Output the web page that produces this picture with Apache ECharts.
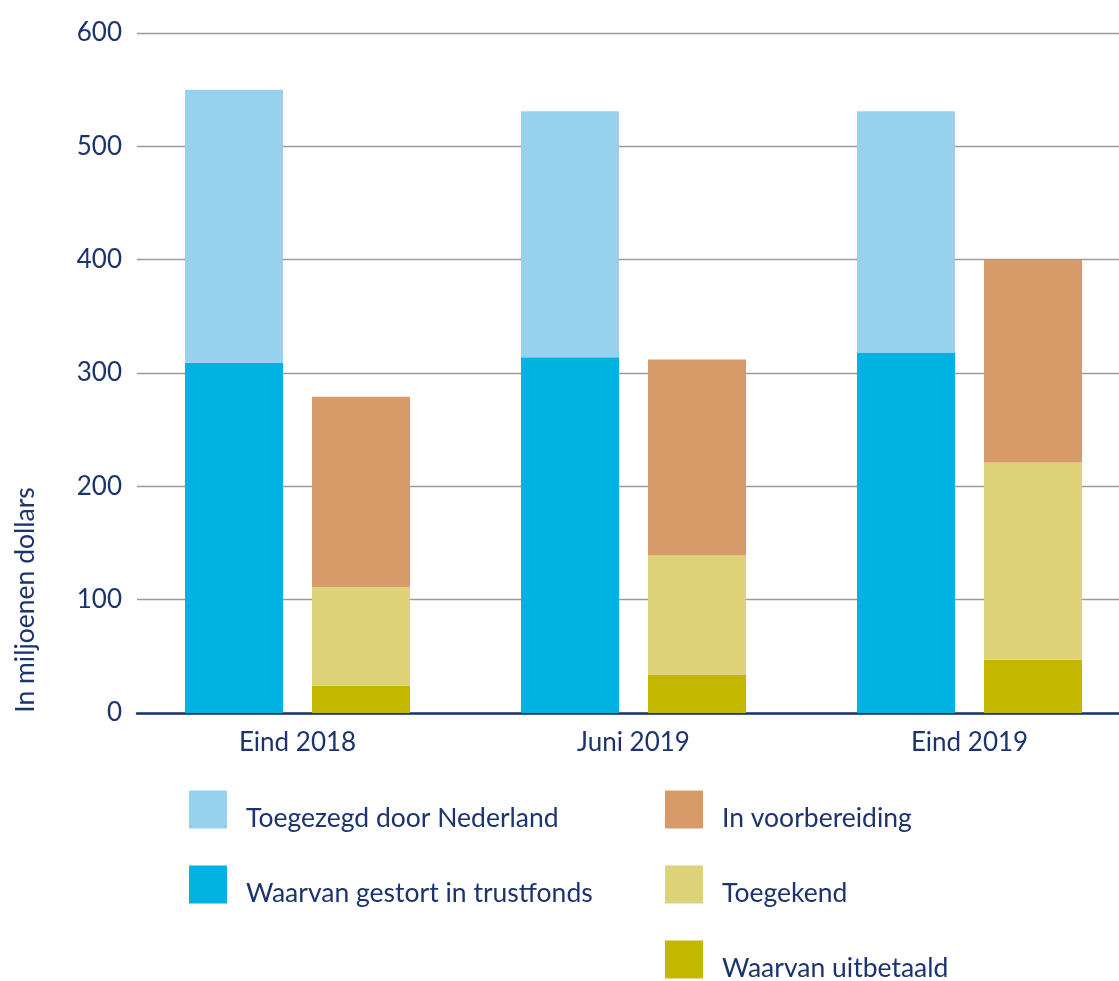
<!DOCTYPE html>
<html>
<head>
<meta charset="utf-8">
<script src="https://cdn.jsdelivr.net/npm/echarts@6/dist/echarts.min.js"></script>
<style>html,body{margin:0;padding:0;background:#fff;overflow:hidden;}#c{width:1140px;height:1010px;}</style>
</head>
<body>
<div id="c"></div>
<script>
// Data (millions of dollars)
var categories = ['Eind 2018', 'Juni 2019', 'Eind 2019'];
var toegezegd = [550, 531, 531];          // Toegezegd door Nederland (total)
var gestort = [309, 314, 318];            // Waarvan gestort in trustfonds
var voorbereidingTop = [279, 312, 400];   // top of "In voorbereiding" stack
var toegekend = [111, 139, 221];          // Toegekend (incl. uitbetaald)
var uitbetaald = [24, 34, 47];            // Waarvan uitbetaald
var yTicks = [0, 100, 200, 300, 400, 500, 600];

var NAVY = '#1b336e';
var FONT = 'Lato';

function diff(a, b) { return a.map(function (v, i) { return v - b[i]; }); }

var chart = echarts.init(document.getElementById('c'));
var barW = 98;
var legendText = { color: NAVY, fontSize: 26.5, fontFamily: FONT, lineHeight: 18, padding: [0, 0, 0, 14] };
function legendFmt(name) { return '\n' + name; }
chart.setOption({
  animation: false,
  textStyle: { fontFamily: FONT },
  grid: [
    { left: 129.5, width: 1008, top: 33, height: 680 },
    { left: 137, width: 982, top: 33, height: 680 }
  ],
  xAxis: [
    {
      gridIndex: 0, type: 'category', data: categories,
      axisLine: { show: false }, axisTick: { show: false },
      axisLabel: { color: NAVY, fontSize: 26, fontFamily: FONT, margin: 17 }
    },
    {
      gridIndex: 1, type: 'value', min: 0, max: 1,
      axisLine: { show: true, onZero: false, lineStyle: { color: NAVY, width: 2.5 } },
      axisTick: { show: false }, axisLabel: { show: false }, splitLine: { show: false }
    }
  ],
  yAxis: [
    {
      gridIndex: 0, type: 'value', min: 0, max: 600, interval: 100,
      axisLine: { show: false }, axisTick: { show: false },
      axisLabel: { show: false }, splitLine: { show: false }
    },
    {
      gridIndex: 1, type: 'value', min: yTicks[0], max: yTicks[yTicks.length - 1], interval: 100,
      axisLine: { show: false }, axisTick: { show: false },
      axisLabel: { color: NAVY, fontSize: 26, fontFamily: FONT, margin: 15 },
      splitLine: { show: true, lineStyle: { color: '#9a9a9a', width: 1.3 } }
    }
  ],
  legend: [
    {
      data: ['Toegezegd door Nederland', 'Waarvan gestort in trustfonds'],
      orient: 'vertical', left: 189, top: 787, padding: 0, itemWidth: 38, itemHeight: 38, itemGap: 30,
      icon: 'rect', selectedMode: false, textStyle: legendText, formatter: legendFmt
    },
    {
      data: ['In voorbereiding', 'Toegekend', 'Waarvan uitbetaald'],
      orient: 'vertical', left: 665, top: 787, padding: 0, itemWidth: 38, itemHeight: 38, itemGap: 30,
      icon: 'rect', selectedMode: false, textStyle: legendText, formatter: legendFmt
    }
  ],
  graphic: [
    {
      type: 'text', x: 25, y: 600, rotation: Math.PI / 2,
      style: { text: 'In miljoenen dollars', fill: NAVY, fontSize: 26.5, fontFamily: FONT,
               align: 'center', verticalAlign: 'middle' }
    }
  ],
  series: [
    { name: 'Waarvan gestort in trustfonds', type: 'bar', stack: 'a', xAxisIndex: 0, yAxisIndex: 0,
      barWidth: barW, barGap: '29.6%', data: gestort, itemStyle: { color: '#00b2e0' } },
    { name: 'Toegezegd door Nederland', type: 'bar', stack: 'a', xAxisIndex: 0, yAxisIndex: 0,
      barWidth: barW, data: diff(toegezegd, gestort), itemStyle: { color: '#96d1ee' } },
    { name: 'Waarvan uitbetaald', type: 'bar', stack: 'b', xAxisIndex: 0, yAxisIndex: 0,
      barWidth: barW, data: uitbetaald, itemStyle: { color: '#c4b700' } },
    { name: 'Toegekend', type: 'bar', stack: 'b', xAxisIndex: 0, yAxisIndex: 0,
      barWidth: barW, data: diff(toegekend, uitbetaald), itemStyle: { color: '#ddd277' } },
    { name: 'In voorbereiding', type: 'bar', stack: 'b', xAxisIndex: 0, yAxisIndex: 0,
      barWidth: barW, data: diff(voorbereidingTop, toegekend), itemStyle: { color: '#d69b68' } }
  ]
});
</script>
</body>
</html>
